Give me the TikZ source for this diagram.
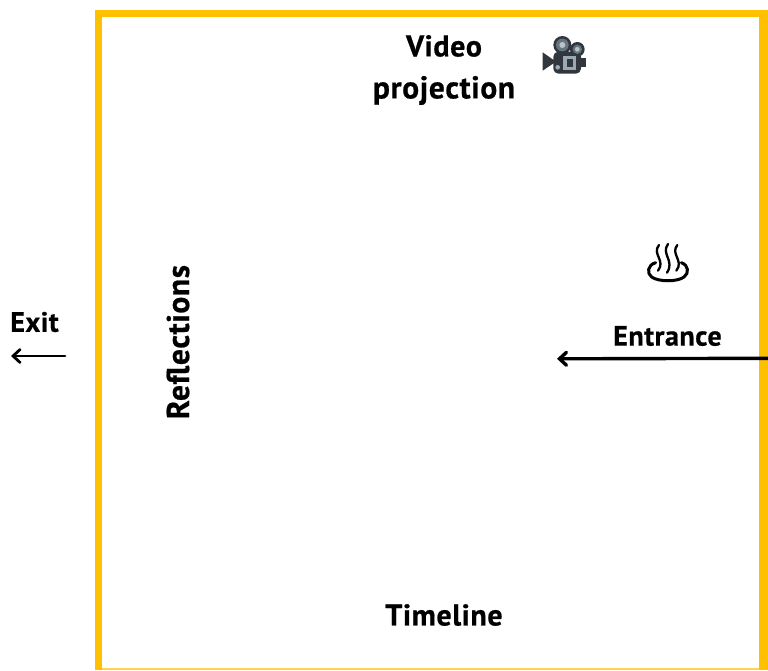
\documentclass[tikz,border=0pt]{standalone}
\usepackage{fontspec}
\setmainfont{PT Sans}[LetterSpace=2.0,BoldFeatures={FakeBold=0.6}]
\usetikzlibrary{arrows.meta}
\definecolor{wall}{HTML}{FFC000}
\definecolor{camdark}{HTML}{31373D}
\definecolor{camgray}{HTML}{66757F}
\definecolor{camlight}{HTML}{99AAB5}
\tikzset{
  lab/.style={font=\fontsize{30}{42}\selectfont\bfseries, text=black, align=center, inner sep=0pt},
  arr/.style={-{Straight Barb[length=7pt,width=13pt,line cap=round]}, line cap=round},
  steam/.style={black, line width=2.3pt, line cap=round},
}
\begin{document}
\begin{tikzpicture}[x=1pt,y=-1pt]
\useasboundingbox (0,0) rectangle (768,670);
% walls
\fill[wall] (95,10) rectangle (768,17);
\fill[wall] (95,10) rectangle (102,670);
\fill[wall] (759,10) rectangle (768,670);
\fill[wall!70] (102,668) rectangle (759,670);
% labels
\node[lab] (video) at (444,70) {Video\\{\fontsize{31.5}{42}\selectfont projection}};
\node[lab,font=\fontsize{28}{34}\selectfont\bfseries] (exit) at (34.5,322) {Exit};
\node[lab,font=\fontsize{28}{34}\selectfont\bfseries] (entrance) at (667.5,336) {Entrance};
\node[lab,font=\fontsize{30}{34}\selectfont\bfseries] (timeline) at (444,615) {Timeline};
\node[lab,rotate=90,font=\fontsize{31.5}{34}\selectfont\bfseries] (reflections) at (178,342) {Reflections};
% connectors
\coordinate (entranceStart) at (768,358.3);
\coordinate (entranceEnd) at (557,358.8);
\coordinate (exitStart) at (65,356);
\coordinate (exitEnd) at (11,356);
\draw[arr,line width=3.4pt] (entranceStart) -- (entranceEnd);
\draw[arr,line width=2.8pt] (exitStart) -- (exitEnd);
% camera
\begin{scope}[shift={(520,20)},x=0.3333pt,y=-0.3333pt]
  \fill[camdark] (68,97) -- (68,152) -- (108,125) -- cycle;
  \fill[camdark] (176,113) rectangle (198,141);
  \fill[camdark,rounded corners=5pt] (100,95) rectangle (183,161);
  \fill[camdark] (127,75) circle (27);
  \fill[camdark] (172,88) circle (22);
  \fill[camgray] (127,75) circle (19);
  \fill[camlight!70] (127,75) circle (9);
  \fill[camgray] (172,88) circle (14);
  \fill[camlight!70] (172,88) circle (7);
  \fill[camlight] (130,108) rectangle (168,150);
  \fill[camdark] (140,118) rectangle (160,140);
  \fill[camlight] (113,142) circle (7);
\end{scope}
% hot springs
\begin{scope}[shift={(540,230)},x=0.3333pt,y=-0.3333pt]
  \draw[steam,line width=3pt] (347,98) .. controls (322,105) and (320,130) .. (335,141)
     .. controls (355,156) and (413,156) .. (432,141)
     .. controls (448,130) and (446,105) .. (424,98);
  \foreach \dx/\top/\bot in {0/45/122,27/42/128,55/45/122}{
    \draw[steam] (357+\dx,\top) .. controls (335+\dx,72) and (378+\dx,92) .. (354+\dx,\bot);
  }
\end{scope}
\end{tikzpicture}
\end{document}
